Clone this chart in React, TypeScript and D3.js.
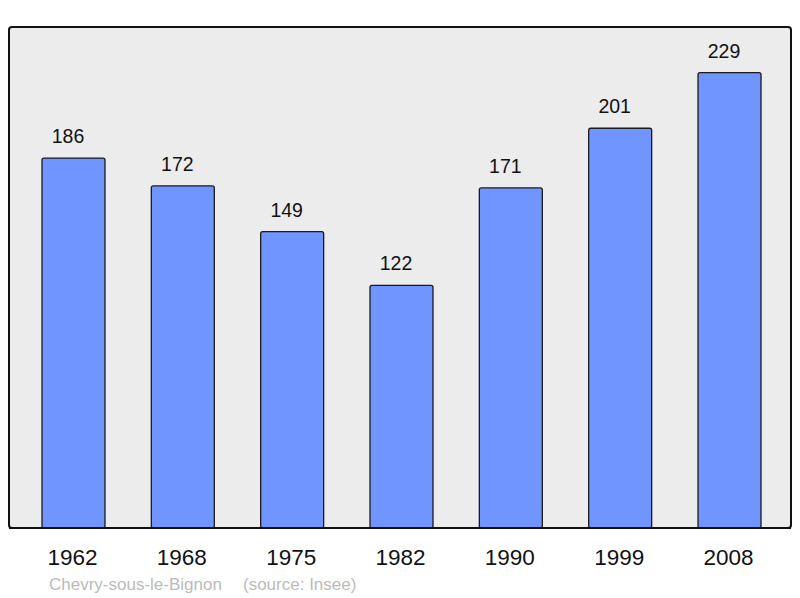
import React, { useEffect, useRef } from 'react';
import * as d3 from 'd3';

const years = ['1962', '1968', '1975', '1982', '1990', '1999', '2008'];
const population = [186, 172, 149, 122, 171, 201, 229];
const commune = 'Chevry-sous-le-Bignon';
const source = '(source: Insee)';

const App: React.FC = () => {
  const svgRef = useRef<SVGSVGElement | null>(null);

  useEffect(() => {
    if (!svgRef.current) return;
    const width = 800;
    const height = 598;

    const svg = d3.select(svgRef.current);
    svg.selectAll('*').remove();
    svg.attr('width', width).attr('height', height).attr('viewBox', `0 0 ${width} ${height}`);

    const data = years.map((y, i) => ({ year: y, value: population[i] }));

    const x = d3.scaleBand<string>().domain(years).range([42, 761]).paddingInner(0.424).paddingOuter(0);
    const y = d3
      .scaleLinear()
      .domain([0, d3.max(population)! * 1.1])
      .range([528, 27]);

    // plot frame
    svg
      .append('rect')
      .attr('x', 9)
      .attr('y', 27)
      .attr('width', 782)
      .attr('height', 501)
      .attr('rx', 3)
      .attr('fill', '#ececec')
      .attr('stroke', '#111')
      .attr('stroke-width', 2);

    const bars = svg.append('g');
    bars
      .selectAll('rect')
      .data(data)
      .enter()
      .append('rect')
      .attr('x', (d) => x(d.year)!)
      .attr('y', (d) => y(d.value))
      .attr('width', x.bandwidth())
      .attr('height', (d) => y(0) - y(d.value))
      .attr('rx', 2)
      .attr('fill', '#7095ff')
      .attr('stroke', '#1a1a1a')
      .attr('stroke-width', 1.3);

    // redraw frame bottom line over bars
    svg
      .append('line')
      .attr('x1', 9)
      .attr('x2', 791)
      .attr('y1', 528)
      .attr('y2', 528)
      .attr('stroke', '#111')
      .attr('stroke-width', 2);

    const font = '"Liberation Sans", Arial, sans-serif';

    // value labels sit a little left of the bar centre
    svg
      .append('g')
      .selectAll('text')
      .data(data)
      .enter()
      .append('text')
      .attr('x', (d) => x(d.year)! + x.bandwidth() / 2 - 5.5)
      .attr('y', (d) => y(d.value) - 15)
      .attr('text-anchor', 'middle')
      .style('font-family', font)
      .style('font-size', '19.5px')
      .attr('fill', '#111')
      .text((d) => d.value);

    svg
      .append('g')
      .selectAll('text')
      .data(years)
      .enter()
      .append('text')
      .attr('x', (d) => x(d)! + x.bandwidth() / 2 - 1)
      .attr('y', 565)
      .attr('text-anchor', 'middle')
      .style('font-family', font)
      .style('font-size', '22.5px')
      .attr('fill', '#111')
      .text((d) => d);

    svg
      .append('text')
      .attr('x', 49)
      .attr('y', 590)
      .style('font-family', font)
      .style('font-size', '17px')
      .attr('fill', '#bbbbbb')
      .text(commune);

    svg
      .append('text')
      .attr('x', 243)
      .attr('y', 590)
      .style('font-family', font)
      .style('font-size', '17px')
      .attr('fill', '#bbbbbb')
      .text(source);
  }, []);

  return (
    <div style={{ position: 'absolute', left: 0, top: 0 }}>
      <svg ref={svgRef} style={{ display: 'block' }}></svg>
    </div>
  );
};

export default App;
